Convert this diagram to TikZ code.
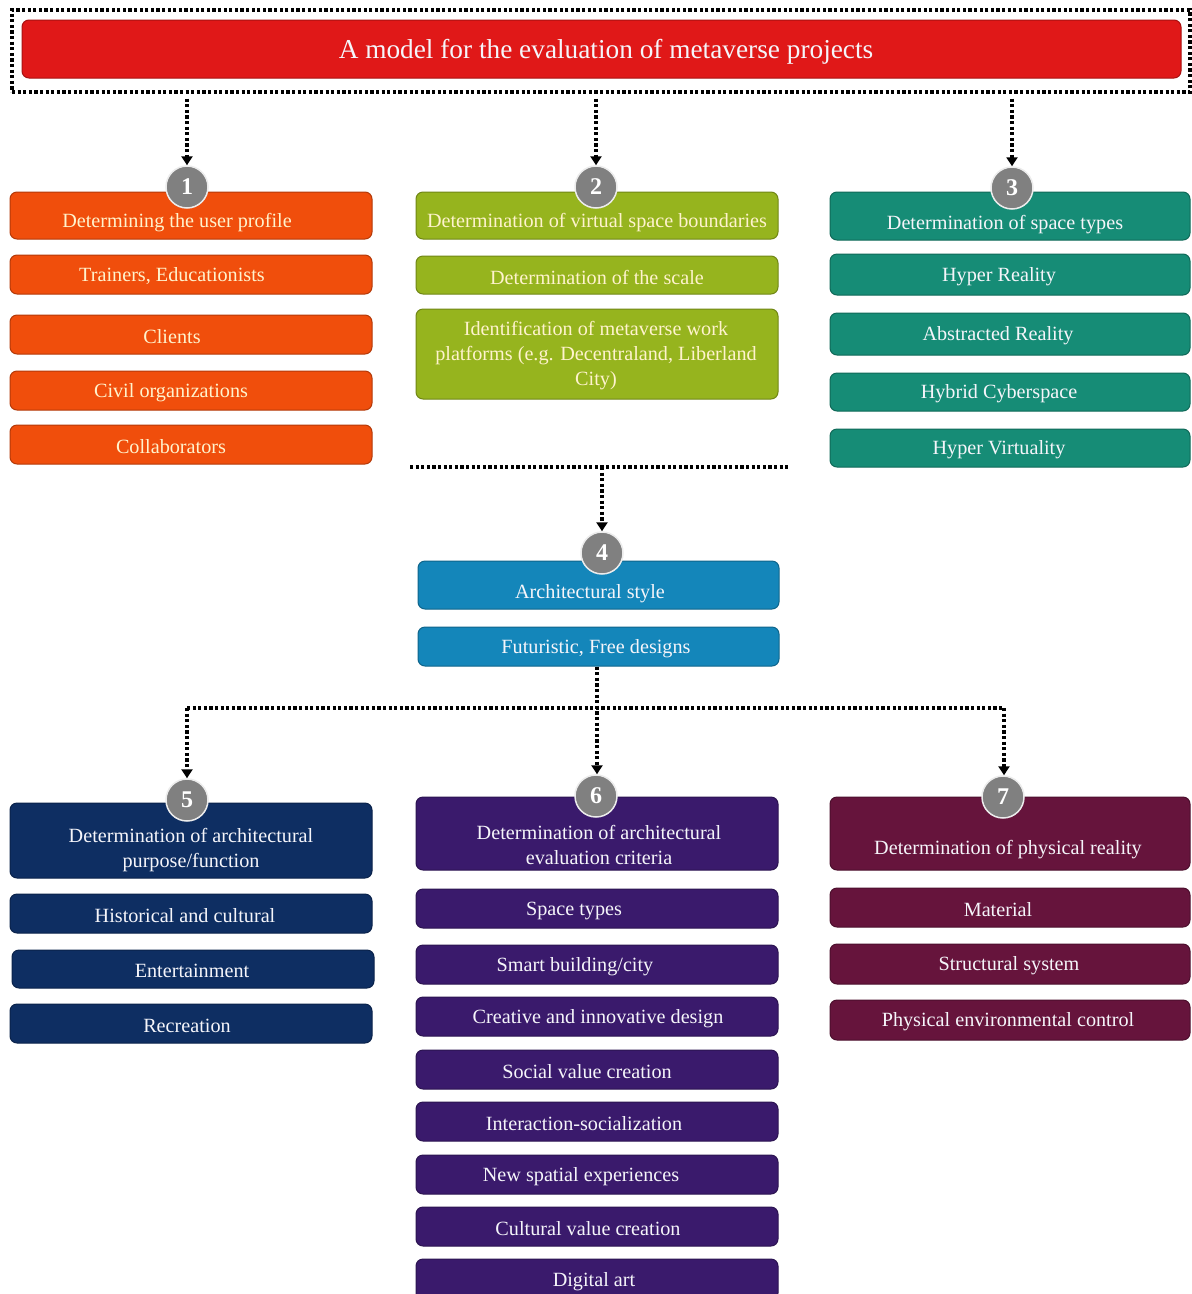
\documentclass[tikz,border=0pt]{standalone}
\usepackage{fontspec}
\setmainfont{Liberation Serif}
\usetikzlibrary{arrows.meta}
\definecolor{cRed}{RGB}{224,24,24}
\definecolor{cOrange}{RGB}{240,78,12}
\definecolor{cGreen}{RGB}{150,180,30}
\definecolor{cTeal}{RGB}{22,140,118}
\definecolor{cBlue}{RGB}{20,134,186}
\definecolor{cNavy}{RGB}{14,46,98}
\definecolor{cPurple}{RGB}{58,26,108}
\definecolor{cMaroon}{RGB}{102,20,60}
\definecolor{cCream}{RGB}{255,243,205}
\definecolor{cWhite}{RGB}{245,245,250}
\definecolor{cGray}{RGB}{128,128,128}
\tikzset{
 box/.style={rounded corners=7pt, draw=#1!75!black, line width=1pt, fill=#1, inner sep=0pt},
 txt/.style={font=\fontsize{20.2}{25}\selectfont, align=center, inner sep=0pt, text=cWhite, yshift=-2pt},
 num/.style={circle, fill=cGray, draw=white!85!gray, line width=1.5pt, minimum size=42pt, inner sep=0pt, text=white, font=\fontsize{24}{24}\selectfont\bfseries},
 flow/.style={line width=3.2pt, dash pattern=on 3.2pt off 2.4pt, -{Triangle[width=11pt,length=9pt]}},
 flowline/.style={line width=3.2pt, dash pattern=on 3.2pt off 2.4pt},
}
\newcommand\bx[8]{%
 \node[box=#2, minimum width={(#5-#3)*1pt}, minimum height={(#6-#4)*1pt}] (#1) at ({(#3+#5)/2},{(#4+#6)/2}) {};
 \node[txt] (#1t) at (#7,{(#4+#6)/2}) {#8};}
\begin{document}
\begin{tikzpicture}[x=1pt,y=-1pt]
\useasboundingbox (0,0) rectangle (1192,1294);
\clip (0,0) rectangle (1192,1294);
\fill[white] (0,0) rectangle (1192,1294);

% title
\node[flowline, draw, minimum width=1178pt, minimum height=82pt, inner sep=0pt] (frame) at (601,51) {};
\node[box=cRed, minimum width=1159pt, minimum height=58pt] (title) at (601.5,49) {};
\node[txt, font=\fontsize{27.3}{30}\selectfont] (titlet) at (606,50) {A model for the evaluation of metaverse projects};

% column 1
\begin{scope}[txt/.append style={text=cCream}]
\bx{h1}{cOrange}{10}{192}{372}{239}{177}{}
\node[txt] (h1text) at (177,221) {Determining the user profile};
\bx{a1}{cOrange}{10}{255}{372}{294}{172}{Trainers, Educationists}
\bx{a2}{cOrange}{10}{315}{372}{354}{172}{Clients}
\bx{a3}{cOrange}{10}{371}{372}{410}{171}{Civil organizations}
\bx{a4}{cOrange}{10}{425}{372}{464}{171}{Collaborators}
% column 2
\bx{h2}{cGreen}{416}{192}{778}{239}{597}{}
\node[txt] (h2text) at (597,221) {Determination of virtual space boundaries};
\bx{b1}{cGreen}{416}{256}{778}{294}{597}{Determination of the scale}
\bx{b2}{cGreen}{416}{309}{778}{399}{596}{Identification of metaverse work\\platforms (e.g. Decentraland, Liberland\\City)}
\end{scope}
% column 3
\bx{h3}{cTeal}{830}{192}{1190}{240}{1005}{}
\node[txt] (h3text) at (1005,223) {Determination of space types};
\bx{c1}{cTeal}{830}{254}{1190}{295}{999}{Hyper Reality}
\bx{c2}{cTeal}{830}{313}{1190}{355}{998}{Abstracted Reality}
\bx{c3}{cTeal}{830}{373}{1190}{411}{999}{Hybrid Cyberspace}
\bx{c4}{cTeal}{830}{429}{1190}{467}{999}{Hyper Virtuality}
% box 4
\bx{h4}{cBlue}{418}{561}{779}{609}{590}{}
\node[txt] (h4text) at (590,592) {Architectural style};
\bx{d1}{cBlue}{418}{627}{779}{666}{596}{Futuristic, Free designs}
% box 5
\bx{h5}{cNavy}{10}{803}{372}{878}{191}{}
\node[txt] (h5text) at (191,848) {Determination of architectural\\purpose/function};
\bx{e1}{cNavy}{10}{894}{372}{933}{185}{Historical and cultural}
\bx{e2}{cNavy}{12}{950}{374}{988}{192}{Entertainment}
\bx{e3}{cNavy}{10}{1004}{372}{1043}{187}{Recreation}
% box 6
\bx{h6}{cPurple}{416}{797}{778}{870}{599}{}
\node[txt] (h6text) at (599,843) {Determination of architectural\\evaluation criteria};
\bx{f1}{cPurple}{416}{889}{778}{928}{574}{Space types}
\bx{f2}{cPurple}{416}{945}{778}{984}{575}{Smart building/city}
\bx{f3}{cPurple}{416}{997}{778}{1036}{598}{Creative and innovative design}
\bx{f4}{cPurple}{416}{1050}{778}{1089}{587}{Social value creation}
\bx{f5}{cPurple}{416}{1102}{778}{1141}{584}{Interaction-socialization}
\bx{f6}{cPurple}{416}{1155}{778}{1194}{581}{New spatial experiences}
\bx{f7}{cPurple}{416}{1207}{778}{1246}{588}{Cultural value creation}
\bx{f8}{cPurple}{416}{1259}{778}{1300}{594}{Digital art}
% box 7
\bx{h7}{cMaroon}{830}{797}{1190}{870}{1008}{}
\node[txt] (h7text) at (1008,848) {Determination of physical reality};
\bx{g1}{cMaroon}{830}{888}{1190}{927}{998}{Material}
\bx{g2}{cMaroon}{830}{944}{1190}{984}{1009}{Structural system}
\bx{g3}{cMaroon}{830}{1000}{1190}{1040}{1008}{Physical environmental control}

% numbers
\node[num] (n1) at (187,187) {1};
\node[num] (n2) at (596,187) {2};
\node[num] (n3) at (1012,188) {3};
\node[num] (n4) at (602,553) {4};
\node[num] (n5) at (187,800) {5};
\node[num] (n6) at (596,796) {6};
\node[num] (n7) at (1003,797) {7};

% connectors
\draw[flow] (frame.south -| n1) ++(0,5) -- (n1.north);
\draw[flow] (frame.south -| n2) ++(0,5) -- (n2.north);
\draw[flow] (frame.south -| n3) ++(0,5) -- (n3.north);
\coordinate (hl) at (410,467);
\coordinate (hr) at (788,467);
\draw[flowline] (hl) -- (hr);
\draw[flow] (hl -| n4) -- (n4.north);
\coordinate (jn) at (597,708);
\coordinate (jl) at (187,708);
\coordinate (jr) at (1004,708);
\draw[flowline] (jl) -- (jr);
\draw[flow] (d1.south -| jn) -- (n6.north -| jn);
\draw[flow] (jl) -- (n5.north);
\draw[flow] (jr) -- (n7.north -| jr);
\end{tikzpicture}
\end{document}
